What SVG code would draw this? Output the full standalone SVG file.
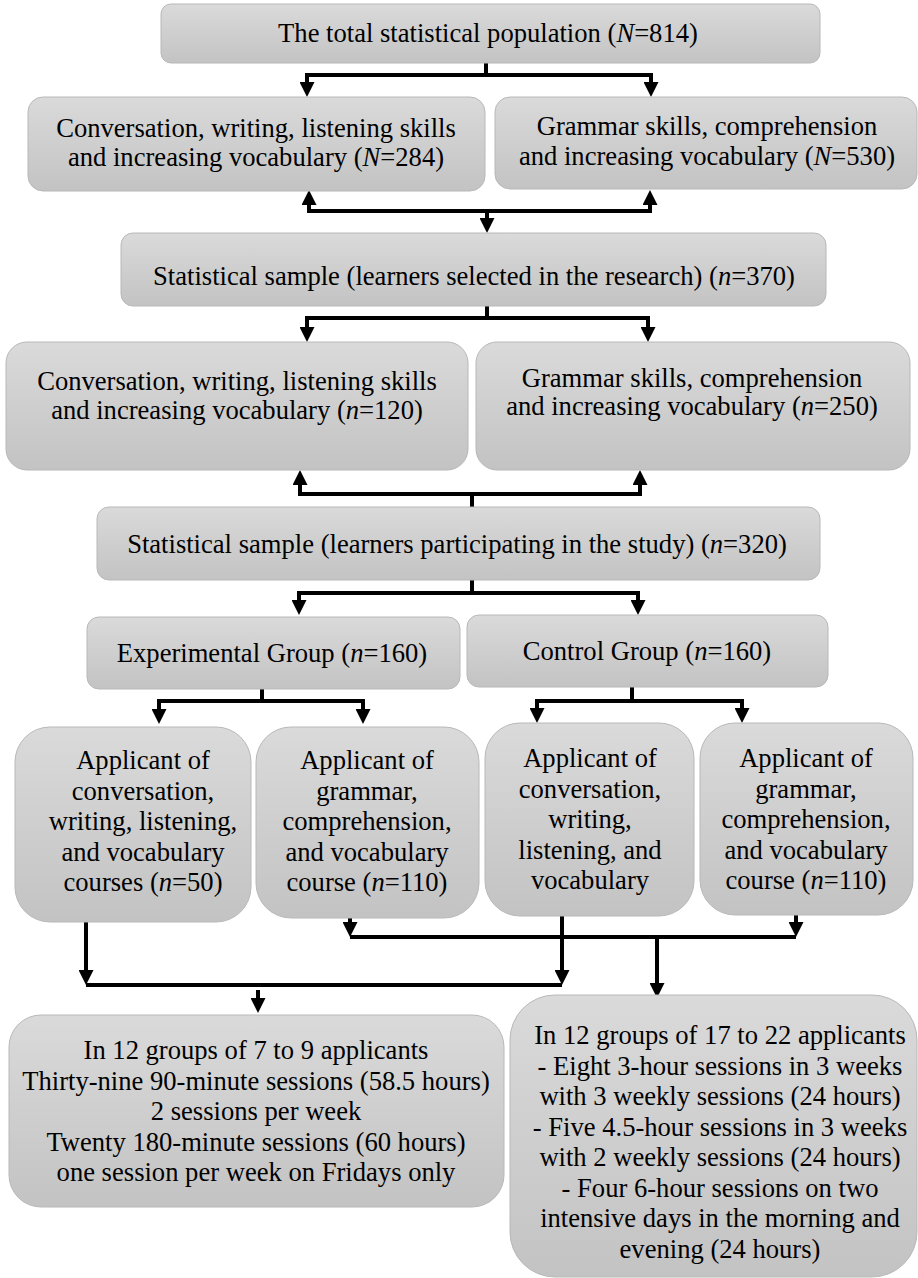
<svg xmlns="http://www.w3.org/2000/svg" width="918" height="1278" viewBox="0 0 918 1278">
<style>
.box{fill:url(#g);stroke:#b8b8b8;stroke-width:1}
text{font-family:"Liberation Serif","Times New Roman",serif;font-size:26.6px;fill:#000;text-anchor:middle}
.i{font-style:italic}
.c{fill:none;stroke:#000;stroke-width:4}
.a{marker-end:url(#ah)}
.b{marker-start:url(#ah);marker-end:url(#ah)}
</style>
<defs>
<linearGradient id="g" x1="0" y1="0" x2="0" y2="1">
<stop offset="0" stop-color="#dadada"/>
<stop offset="1" stop-color="#c3c3c3"/>
</linearGradient>
<marker id="ah" markerUnits="userSpaceOnUse" markerWidth="16" markerHeight="15" refX="3" refY="7.5" orient="auto-start-reverse">
<path d="M0,0 L15,7.5 L0,15 z" fill="#000"/>
</marker>
</defs>
<g id="connectors">
<path class="c" d="M486,63 V75"/>
<path class="c b" d="M307,85 V75 H651 V85"/>
<path class="c b" d="M309,202 V211 H650 V202"/>
<path class="c a" d="M487,211 V221"/>
<path class="c" d="M487,306 V318"/>
<path class="c b" d="M307,330 V318 H648 V330"/>
<path class="c b" d="M300,482 V494 H640 V482"/>
<path class="c" d="M472,494 V507"/>
<path class="c" d="M472,580 V593"/>
<path class="c b" d="M299,603 V593 H638 V603"/>
<path class="c" d="M262,689 V701"/>
<path class="c b" d="M159,712 V701 H363 V712"/>
<path class="c" d="M632,687 V701"/>
<path class="c b" d="M537,711 V701 H742 V711"/>
<path class="c a" d="M350,918 V925"/>
<path class="c a" d="M796,915 V925"/>
<path class="c" d="M350,937 H796"/>
<path class="c a" d="M657,937 V986"/>
<path class="c a" d="M86,922 V973"/>
<path class="c a" d="M562,916 V973"/>
<path class="c" d="M86,985 H562"/>
<path class="c a" d="M258,990 V1001"/>
</g>
<g id="n1"><rect class="box" x="161" y="4" width="659" height="59" rx="10"/>
<text x="488" y="42">The total statistical population (<tspan class="i">N</tspan>=814)</text></g>
<g id="n2a"><rect class="box" x="28" y="97" width="457" height="94" rx="15"/>
<text x="256" y="137">Conversation, writing, listening skills</text>
<text x="256" y="166">and increasing vocabulary (<tspan class="i">N</tspan>=284)</text></g>
<g id="n2b"><rect class="box" x="495" y="97" width="422" height="92" rx="15"/>
<text x="707" y="135">Grammar skills, comprehension</text>
<text x="707" y="165">and increasing vocabulary (<tspan class="i">N</tspan>=530)</text></g>
<g id="n3"><rect class="box" x="121" y="233" width="705" height="73" rx="12"/>
<text x="474" y="285">Statistical sample (learners selected in the research) (<tspan class="i">n</tspan>=370)</text></g>
<g id="n4a"><rect class="box" x="6" y="342" width="462" height="128" rx="21"/>
<text x="237" y="390">Conversation, writing, listening skills</text>
<text x="237" y="419">and increasing vocabulary (<tspan class="i">n</tspan>=120)</text></g>
<g id="n4b"><rect class="box" x="476" y="342" width="434" height="128" rx="21"/>
<text x="692" y="387">Grammar skills, comprehension</text>
<text x="692" y="415">and increasing vocabulary (<tspan class="i">n</tspan>=250)</text></g>
<g id="n5"><rect class="box" x="97" y="507" width="723" height="73" rx="12"/>
<text x="457" y="553">Statistical sample (learners participating in the study) (<tspan class="i">n</tspan>=320)</text></g>
<g id="n6a"><rect class="box" x="87" y="617" width="373" height="72" rx="12"/>
<text x="272" y="662">Experimental Group (<tspan class="i">n</tspan>=160)</text></g>
<g id="n6b"><rect class="box" x="467" y="615" width="361" height="72" rx="12"/>
<text x="647" y="660">Control Group (<tspan class="i">n</tspan>=160)</text></g>
<g id="n7a"><rect class="box" x="15" y="727" width="236" height="195" rx="35"/>
<text x="143" y="769">Applicant of</text>
<text x="143" y="799.5">conversation,</text>
<text x="143" y="830">writing, listening,</text>
<text x="143" y="860.5">and vocabulary</text>
<text x="143" y="891">courses (<tspan class="i">n</tspan>=50)</text></g>
<g id="n7b"><rect class="box" x="256" y="727" width="223" height="191" rx="35"/>
<text x="367" y="769">Applicant of</text>
<text x="367" y="799.5">grammar,</text>
<text x="367" y="830">comprehension,</text>
<text x="367" y="860.5">and vocabulary</text>
<text x="367" y="891">course (<tspan class="i">n</tspan>=110)</text></g>
<g id="n7c"><rect class="box" x="485" y="723" width="209" height="193" rx="35"/>
<text x="590" y="767">Applicant of</text>
<text x="590" y="797.5">conversation,</text>
<text x="590" y="828">writing,</text>
<text x="590" y="858.5">listening, and</text>
<text x="590" y="889">vocabulary</text></g>
<g id="n7d"><rect class="box" x="700" y="723" width="213" height="192" rx="35"/>
<text x="806" y="767">Applicant of</text>
<text x="806" y="797.5">grammar,</text>
<text x="806" y="828">comprehension,</text>
<text x="806" y="858.5">and vocabulary</text>
<text x="806" y="889">course (<tspan class="i">n</tspan>=110)</text></g>
<g id="n8a"><rect class="box" x="9" y="1015" width="495" height="192" rx="32"/>
<text x="256" y="1059">In 12 groups of 7 to 9 applicants</text>
<text x="256" y="1089.5">Thirty-nine 90-minute sessions (58.5 hours)</text>
<text x="256" y="1120">2 sessions per week</text>
<text x="256" y="1150.5">Twenty 180-minute sessions (60 hours)</text>
<text x="256" y="1181">one session per week on Fridays only</text></g>
<g id="n8b"><rect class="box" x="510" y="995" width="407" height="282" rx="45"/>
<text x="720" y="1044">In 12 groups of 17 to 22 applicants</text>
<text x="720" y="1074.5">- Eight 3-hour sessions in 3 weeks</text>
<text x="720" y="1105">with 3 weekly sessions (24 hours)</text>
<text x="720" y="1135.5">- Five 4.5-hour sessions in 3 weeks</text>
<text x="720" y="1166">with 2 weekly sessions (24 hours)</text>
<text x="720" y="1196.5">- Four 6-hour sessions on two</text>
<text x="720" y="1227">intensive days in the morning and</text>
<text x="720" y="1257.5">evening (24 hours)</text></g>
</svg>
